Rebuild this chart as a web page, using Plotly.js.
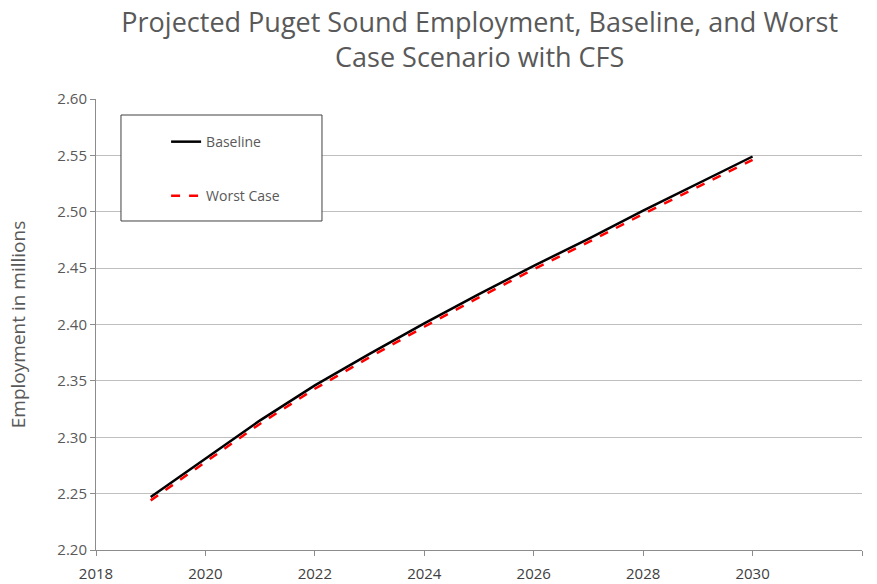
<!DOCTYPE html>
<html>
<head>
<meta charset="utf-8">
<script src="https://cdn.plot.ly/plotly-3.0.1.min.js"></script>
<style>html,body{margin:0;padding:0;background:#fff;}#chart{width:877px;height:584px;}</style>
</head>
<body>
<div id="chart"></div>
<script>
var years = [2019, 2020, 2021, 2022, 2023, 2024, 2025, 2026, 2027, 2028, 2029, 2030];
var baseline = [2.247, 2.281, 2.315, 2.346, 2.374, 2.401, 2.427, 2.452, 2.476, 2.501, 2.525, 2.549];
var worstCase = [2.244, 2.278, 2.312, 2.343, 2.371, 2.398, 2.424, 2.449, 2.473, 2.498, 2.522, 2.546];
var seriesNames = ["Baseline", "Worst Case"];

var grey = "#595959";
var font = "Open Sans, Liberation Sans, sans-serif";

var traces = [
  {x: years, y: baseline, name: seriesNames[0], mode: "lines", legendgroup: "a",
   line: {color: "#000000", width: 2.5}},
  {x: years, y: worstCase, name: seriesNames[1], mode: "lines", legendgroup: "b",
   line: {color: "#ff0000", width: 2.5, dash: "dash"}}
];

var layout = {
  width: 877, height: 584,
  margin: {l: 96, r: 15, t: 99, b: 34},
  paper_bgcolor: "#ffffff", plot_bgcolor: "#ffffff",
  title: {text: "Projected Puget Sound Employment, Baseline, and Worst<br>Case Scenario with CFS",
          font: {family: font, size: 27, color: grey}, x: 0.547, xanchor: "center",
          yref: "container", y: 0.946, yanchor: "middle"},
  showlegend: true,
  legend: {x: 0.0915, y: 0.94, xanchor: "left", yanchor: "top", bgcolor: "rgba(0,0,0,0)",
           borderwidth: 0, font: {family: font, size: 14, color: grey},
           traceorder: "grouped", tracegroupgap: 33},
  shapes: [{type: "rect", xref: "paper", yref: "paper", x0: 0.0326, x1: 0.295, y0: 0.7295, y1: 0.9645,
            line: {color: "#404040", width: 1}, fillcolor: "#ffffff", layer: "above"}],
  xaxis: {range: [2018, 2032], dtick: 2, tick0: 2018, showgrid: false, zeroline: false,
          showline: true, linecolor: "#8c8c8c", linewidth: 1, ticks: "outside", ticklen: 5,
          tickcolor: "#8c8c8c", ticklabelstandoff: 5, tickfont: {family: font, size: 15, color: "#404040"}},
  yaxis: {range: [2.2, 2.6], dtick: 0.05, tick0: 2.2, tickformat: ".2f", showgrid: true,
          gridcolor: "#bfbfbf", gridwidth: 1, zeroline: false,
          showline: true, linecolor: "#8c8c8c", linewidth: 1, ticks: "outside", ticklen: 5,
          tickcolor: "#8c8c8c", tickfont: {family: font, size: 15, color: grey},
          title: {text: "Employment in millions", font: {family: font, size: 19, color: grey}, standoff: 26}}
};

Plotly.newPlot("chart", traces, layout, {displayModeBar: false, staticPlot: true});
</script>
</body>
</html>
